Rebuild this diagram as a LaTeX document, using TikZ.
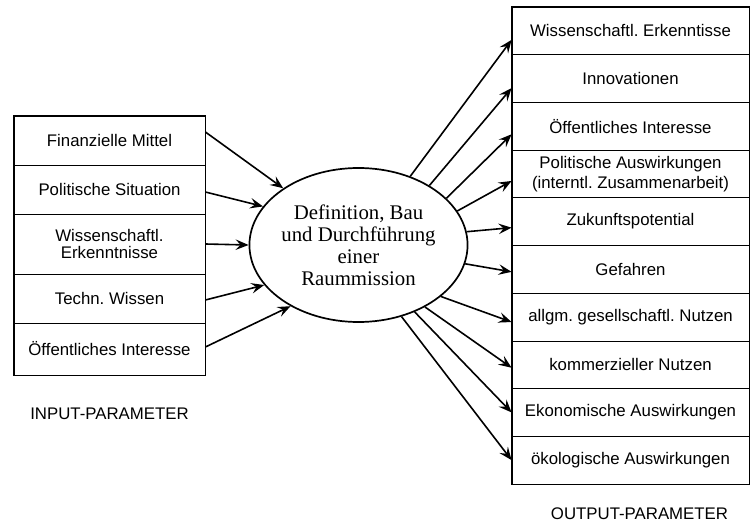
\documentclass[tikz,border=0pt]{standalone}
\usepackage{fontspec}
\setmainfont{Liberation Sans}
\newfontfamily\serifface{Liberation Serif}
\usetikzlibrary{shapes.geometric,arrows.meta}
\frenchspacing

\tikzset{
  cell/.style={draw, line width=0.8pt, inner sep=0pt, align=center,
    font=\fontsize{16.8}{19.5}\selectfont},
  lcell/.style={cell, minimum width=191pt},
  rcell/.style={cell, minimum width=237pt, minimum height=47.7pt},
  frame/.style={draw, line width=1.7pt},
  arr/.style={line width=1.6pt, -{Stealth[length=13pt,width=10.5pt,inset=5pt]}},
  hub/.style={ellipse, draw, line width=1.7pt, minimum width=197pt,
    minimum height=154pt, inner sep=0pt, align=center,
    font=\serifface\fontsize{20.8}{22}\selectfont},
  caption/.style={font=\fontsize{16.8}{19.5}\selectfont}
}

\begin{document}
\begin{tikzpicture}[x=1pt,y=-1pt]
\useasboundingbox (0,0) rectangle (752,524);

% input parameters
\node[lcell, minimum height=49pt] (l1) at (109.5,140.5) {Finanzielle Mittel};
\node[lcell, minimum height=49pt] (l2) at (109.5,189.5) {Politische Situation};
\node[lcell, minimum height=60pt, font=\fontsize{16.8}{16.5}\selectfont] (l3) at (109.5,244) {Wissenschaftl.\\Erkenntnisse};
\node[lcell, minimum height=49pt] (l4) at (109.5,298.5) {Techn. Wissen};
\node[lcell, minimum height=52pt] (l5) at (109.5,349) {Öffentliches Interesse};
\draw[frame] (l1.north west) rectangle (l5.south east);
\node[caption] (inlabel) at (109.5,414) {INPUT-PARAMETER};

% central process
\node[hub] (ell) at (358.5,245) {Definition, Bau\\und Durchführung\\einer\\Raummission};

% output parameters
\node[rcell] (r1) at (630.5,30.85) {Wissenschaftl. Erkenntisse};
\node[rcell] (r2) at (630.5,78.55) {Innovationen};
\node[rcell] (r3) at (630.5,126.25) {Öffentliches Interesse};
\node[rcell] (r4) at (630.5,173.95) {Politische Auswirkungen\\(interntl. Zusammenarbeit)};
\node[rcell] (r5) at (630.5,221.65) {Zukunftspotential};
\node[rcell] (r6) at (630.5,269.35) {Gefahren};
\node[rcell] (r7) at (630.5,317.05) {allgm. gesellschaftl. Nutzen};
\node[rcell] (r8) at (630.5,364.75) {kommerzieller Nutzen};
\node[rcell] (r9) at (630.5,412.45) {Ekonomische Auswirkungen};
\node[rcell] (r10) at (630.5,460.15) {ökologische Auswirkungen};
\draw[frame] (r1.north west) rectangle (r10.south east);
\node[caption] (outlabel) at (639.5,514) {OUTPUT-PARAMETER};

% inputs into the mission
\draw[arr] ([yshift=8.5pt]l1.east) -- (ell.143);
\draw[arr] ([yshift=-2.5pt]l2.east) -- (ell.158);
\draw[arr] (l3.east) -- (ell.180);
\draw[arr] ([yshift=-1.5pt]l4.east) -- (ell.203);
\draw[arr] ([yshift=2pt]l5.east) -- (ell.222);

% mission results
\draw[arr] (ell.53) -- ([yshift=-9pt]r1.west);
\draw[arr] (ell.40) -- ([yshift=-9.5pt]r2.west);
\draw[arr] (ell.28.3) -- ([yshift=-8pt]r3.west);
\draw[arr] (ell.19.1) -- ([yshift=-7pt]r4.west);
\draw[arr] (ell.7.6) -- ([yshift=-6pt]r5.west);
\draw[arr] (ell.-10.5) -- ([yshift=-2.5pt]r6.west);
\draw[arr] (ell.-32.2) -- ([yshift=-5pt]r7.west);
\draw[arr] (ell.-43.9) -- ([yshift=-3pt]r8.west);
\draw[arr] (ell.-50.3) -- (r9.west);
\draw[arr] (ell.-59.6) -- (r10.west);
\end{tikzpicture}
\end{document}
